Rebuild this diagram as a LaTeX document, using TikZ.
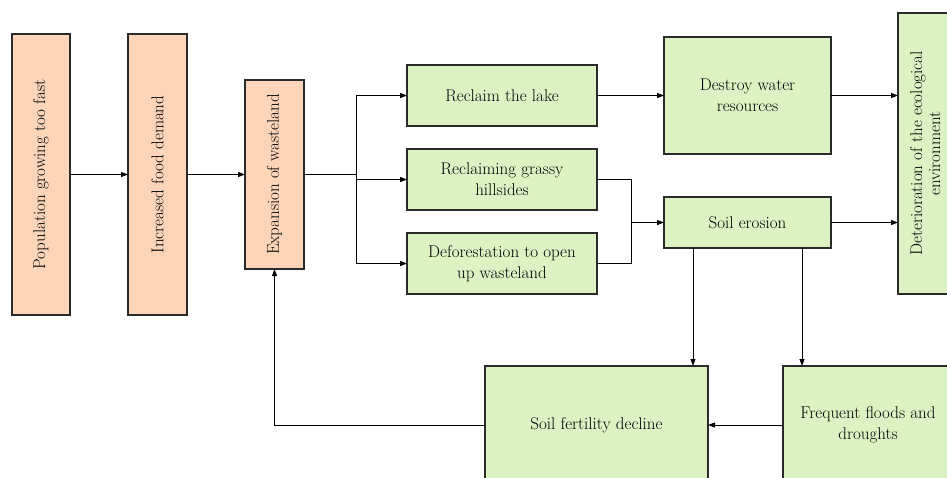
\documentclass[tikz,border=0pt]{standalone}
\usetikzlibrary{arrows.meta}
\definecolor{peach}{HTML}{FCD5B8}
\definecolor{lgreen}{HTML}{DCF2C3}
\definecolor{edge}{HTML}{2A2A2A}
\begin{document}
\begin{tikzpicture}[x=1pt,y=-1pt,
  box/.style={draw=edge,line width=1.3pt,inner sep=2pt,outer sep=0pt,align=center,
    font=\fontsize{17}{21}\selectfont},
  pbox/.style={box,fill=peach},
  gbox/.style={box,fill=lgreen},
  conn/.style={draw=black,line width=0.9pt},
  arr/.style={conn,-{Triangle[length=7pt,width=5pt]}}]
\useasboundingbox (0,0) rectangle (947,478);
\clip (0,0) rectangle (947,478);
\node[pbox,minimum width=58,minimum height=281] (pop) at (41,174.5)
  {\rotatebox{90}{Population growing too fast}};
\node[pbox,minimum width=59,minimum height=281] (food) at (157.5,174.5)
  {\rotatebox{90}{Increased food demand}};
\node[pbox,minimum width=59,minimum height=189] (exp) at (274.5,174.5)
  {\rotatebox{90}{Expansion of wasteland}};
\node[gbox,minimum width=190,minimum height=61] (lake) at (502,95.5) {Reclaim the lake};
\node[gbox,minimum width=190,minimum height=61] (grass) at (502,179.5) {Reclaiming grassy\\hillsides};
\node[gbox,minimum width=190,minimum height=61] (defo) at (502,263.5) {Deforestation to open\\up wasteland};
\node[gbox,minimum width=167,minimum height=117] (water) at (747.5,95.5) {Destroy water\\resources};
\node[gbox,minimum width=167,minimum height=51] (erosion) at (747.5,222.5) {Soil erosion};
\node[gbox,minimum width=58,minimum height=281] (det) at (927,153.5)
  {\rotatebox{90}{\begin{tabular}{@{}c@{}}Deterioration of the ecological\\[-3pt]environment\end{tabular}}};
\node[gbox,minimum width=223,minimum height=118] (fert) at (596.5,425) {Soil fertility decline};
\node[gbox,minimum width=170,minimum height=118] (flood) at (868,425) {Frequent floods and\\droughts};
\coordinate (br) at (356,174.5);
\coordinate (mg) at (631,222.5);
\coordinate (e1) at (693,0);
\coordinate (e2) at (802,0);
\draw[arr] (pop) -- (food);
\draw[arr] (food) -- (exp);
\draw[conn,line width=1.5pt] (exp.east) -- (br);
\draw[arr] (br) |- (lake.west);
\draw[arr] (br) |- (defo.west);
\draw[arr] (br|-grass.west) -- (grass.west);
\draw[conn] (br) -- (br|-grass.west);
\draw[conn] (grass.east) -| (mg);
\draw[conn] (defo.east) -| (mg);
\draw[arr] (mg) -- (erosion.west);
\draw[arr] (lake.east) -- (water.west);
\draw[arr] (water.east) -- (det.west|-water.east);
\draw[arr] (erosion.east) -- (det.west|-erosion.east);
\draw[arr] (erosion.south-|e1) -- (fert.north-|e1);
\draw[arr] (erosion.south-|e2) -- (flood.north-|e2);
\draw[arr] (flood.west) -- (fert.east);
\draw[arr] (fert.west) -| (exp.south);
\end{tikzpicture}
\end{document}
